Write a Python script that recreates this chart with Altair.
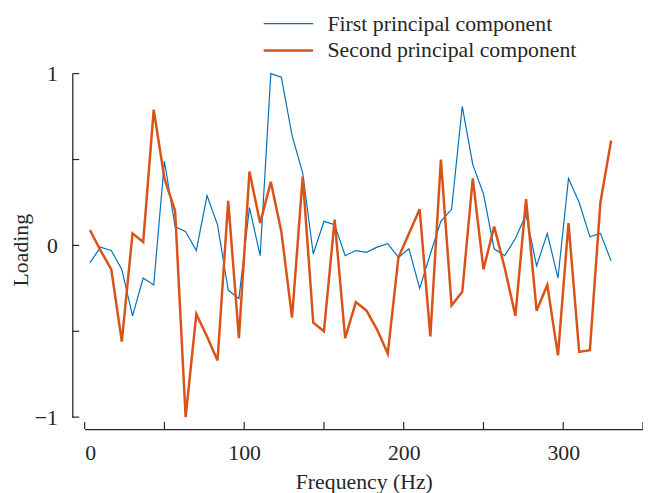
import altair as alt
import pandas as pd

# ---- data ----
freq = [3.3, 10.0, 16.7, 23.3, 30.0, 36.7, 43.3, 50.0, 56.7, 63.3,
        70.0, 76.7, 83.3, 90.0, 96.7, 103.3, 110.0, 116.7, 123.3, 130.0,
        136.7, 143.3, 150.0, 156.7, 163.3, 170.0, 176.7, 183.3, 190.0, 196.7,
        203.3, 210.0, 216.7, 223.3, 230.0, 236.7, 243.3, 250.0, 256.7, 263.3,
        270.0, 276.7, 283.3, 290.0, 296.7, 303.3, 310.0, 316.7, 323.3, 330.0]

first_pc = [-0.10, -0.01, -0.03, -0.14, -0.41, -0.19, -0.23, 0.49, 0.11, 0.08,
            -0.03, 0.29, 0.12, -0.26, -0.31, 0.22, -0.06, 1.00, 0.98, 0.64,
            0.42, -0.05, 0.14, 0.12, -0.06, -0.03, -0.04, -0.01, 0.01, -0.07,
            -0.02, -0.25, -0.05, 0.14, 0.21, 0.81, 0.47, 0.30, -0.02, -0.06,
            0.04, 0.18, -0.12, 0.07, -0.19, 0.39, 0.25, 0.05, 0.07, -0.09]

second_pc = [0.09, -0.03, -0.14, -0.56, 0.07, 0.02, 0.79, 0.39, 0.20, -1.00,
             -0.40, -0.53, -0.67, 0.26, -0.54, 0.43, 0.13, 0.37, 0.08, -0.42,
             0.40, -0.45, -0.50, 0.15, -0.54, -0.33, -0.38, -0.49, -0.63, -0.07,
             0.07, 0.21, -0.53, 0.50, -0.35, -0.27, 0.39, -0.14, 0.11, -0.13,
             -0.41, 0.27, -0.38, -0.23, -0.64, 0.13, -0.62, -0.61, 0.25, 0.61]

series_names = ["First principal component", "Second principal component"]
series_colors = ["#0072BD", "#D95319"]
series_widths = [1.2, 2.5]

x_tick_values = [0, 50, 100, 150, 200, 250, 300, 350]
x_label_values = [0, 100, 200, 300]
y_tick_values = [-1, -0.5, 0, 0.5, 1]
y_label_values = [-1.0, 0.0, 1.0]

# ---- build table ----
df = pd.DataFrame({
    "freq": freq + freq,
    "loading": first_pc + second_pc,
    "series": [series_names[0]] * len(freq) + [series_names[1]] * len(freq),
})

FONT = "Liberation Serif"
INK = "#262626"
W = 564.5
H = 347.3

x_enc = alt.X(
    "freq:Q",
    scale=alt.Scale(domain=[0, 350], nice=False, zero=False),
    axis=alt.Axis(
        title="Frequency (Hz)", values=x_label_values, format="d", offset=12,
        ticks=False, tickSize=0, grid=False, labelOverlap=False,
        domainColor=INK, domainWidth=1.3,
        labelFont=FONT, labelFontSize=22, labelColor=INK, labelPadding=14,
        titleFont=FONT, titleFontSize=22, titleFontWeight="normal",
        titleColor=INK, titlePadding=8,
    ),
)
y_enc = alt.Y(
    "loading:Q",
    scale=alt.Scale(domain=[-1, 1], nice=False, zero=False),
    axis=alt.Axis(
        title="Loading", values=y_label_values, format="~g", offset=12.5,
        ticks=False, tickSize=0, grid=False, labelOverlap=False,
        domainColor=INK, domainWidth=1.3,
        labelFont=FONT, labelFontSize=22, labelColor=INK, labelPadding=15,
        titleFont=FONT, titleFontSize=22, titleFontWeight="normal",
        titleColor=INK, titlePadding=2, titleY=178,
    ),
)

lines = alt.Chart(df).mark_line().encode(
    x=x_enc,
    y=y_enc,
    color=alt.Color("series:N",
                    scale=alt.Scale(domain=series_names, range=series_colors),
                    title=None),
    strokeWidth=alt.StrokeWidth("series:N",
                                scale=alt.Scale(domain=series_names, range=series_widths),
                                title=None),
)

# inward-pointing ticks
x_ticks = alt.Chart(pd.DataFrame({"freq": x_tick_values})).mark_rule(
    color=INK, strokeWidth=1.2
).encode(x="freq:Q", y=alt.value(H + 12), y2=alt.value(H + 5))

y_ticks = alt.Chart(pd.DataFrame({"loading": y_tick_values})).mark_rule(
    color=INK, strokeWidth=1.2
).encode(y="loading:Q", x=alt.value(-12.5), x2=alt.value(-5.5))

chart = alt.layer(lines, x_ticks, y_ticks).properties(
    width=W,
    height=H,
    autosize=alt.AutoSizeParams(type="none"),
    padding={"left": 77.5, "top": 63.7, "right": 0, "bottom": 74},
).configure_view(stroke=None).configure_legend(
    orient="none",
    legendX=179.5,
    legendY=-64,
    padding=0,
    rowPadding=0,
    clipHeight=27,
    symbolType="stroke",
    symbolSize=2500,
    labelOffset=13,
    labelFont=FONT,
    labelFontSize=22,
    labelColor=INK,
    labelLimit=400,
)

chart.save("out.html", embed_options={"renderer": "svg", "actions": False})
